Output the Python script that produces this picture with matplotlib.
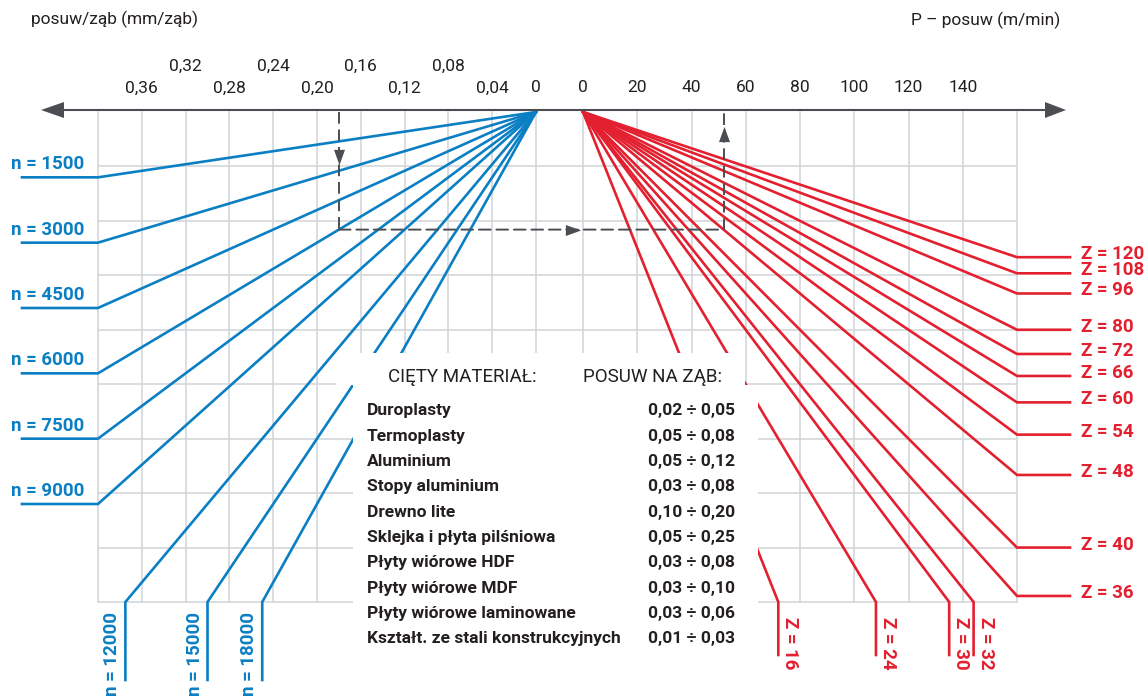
import matplotlib
matplotlib.use("Agg")
import matplotlib.pyplot as plt
from matplotlib.patches import Rectangle, Polygon, ConnectionPatch
import numpy as np

# ---------------- data ----------------
n_values = [1500, 3000, 4500, 6000, 7500, 9000, 12000, 15000, 18000]
z_values = [120, 108, 96, 80, 72, 66, 60, 54, 48, 40, 36, 32, 30, 24, 16]
fz_ticks_upper = [0.32, 0.24, 0.16, 0.08]
fz_ticks_lower = [0.36, 0.28, 0.20, 0.12, 0.04, 0.0]
p_ticks = [0, 20, 40, 60, 80, 100, 120, 140]
fz_title = "posuw/ząb (mm/ząb)"
p_title = "P – posuw (m/min)"
materials = ["Duroplasty", "Termoplasty", "Aluminium", "Stopy aluminium", "Drewno lite",
             "Sklejka i płyta pilśniowa", "Płyty wiórowe HDF", "Płyty wiórowe MDF",
             "Płyty wiórowe laminowane", "Kształt. ze stali konstrukcyjnych"]
feeds = ["0,02 ÷ 0,05", "0,05 ÷ 0,08", "0,05 ÷ 0,12", "0,03 ÷ 0,08", "0,10 ÷ 0,20",
         "0,05 ÷ 0,25", "0,03 ÷ 0,08", "0,03 ÷ 0,10", "0,03 ÷ 0,06", "0,01 ÷ 0,03"]
table_headers = ["CIĘTY MATERIAŁ:", "POSUW NA ZĄB:"]
example_fz, example_n, example_z = 0.18, 6000, 48

FZ_MAX, FZN_MAX, P_MAX = 0.40, 4500, 160

# ---------------- style ----------------
BLUE = "#0b7fc4"
RED = "#e3202f"
GRAY = "#4a4e52"
GRID = "#d4d8dc"
TXT = "#231f20"
FONT = ["Roboto", "DejaVu Sans"]
plt.rcParams["font.family"] = FONT

W, H = 1146, 697
fig = plt.figure(figsize=(W / 100, H / 100), dpi=100)
fig.patch.set_facecolor("white")

def fr(x0, y0, x1, y1):
    return [x0 / W, 1 - y1 / H, (x1 - x0) / W, (y1 - y0) / H]

ax_l = fig.add_axes(fr(98, 112, 536, 602))
ax_r = fig.add_axes(fr(583, 112, 1017, 602))
ax_l.set_xlim(FZ_MAX, 0)
ax_l.set_ylim(FZN_MAX, 0)
ax_r.set_xlim(0, P_MAX)
ax_r.set_ylim(FZN_MAX, 0)
for a in (ax_l, ax_r):
    a.set_facecolor("none")
    for s in a.spines.values():
        s.set_visible(False)
    a.set_xticks([])
    a.set_yticks([])

# px per data unit
px_fz = (536 - 98) / FZ_MAX
px_fzn = (602 - 112) / FZN_MAX
px_p = (1017 - 583) / P_MAX

# ---------------- grid ----------------
fz_grid = np.arange(0, 0.401, 0.04)
fzn_grid = np.arange(500, 4501, 500)
p_grid = np.arange(0, 161, 20)
gap_fz = -(583 - 536) / px_fz
for g in fz_grid:
    ax_l.plot([g, g], [0, FZN_MAX], color=GRID, lw=1.2, zorder=1, clip_on=False)
for g in p_grid:
    ax_r.plot([g, g], [0, FZN_MAX], color=GRID, lw=1.2, zorder=1, clip_on=False)
for g in fzn_grid:
    ax_l.plot([FZ_MAX, gap_fz], [g, g], color=GRID, lw=1.2, zorder=1, clip_on=False)
    ax_r.plot([0, P_MAX], [g, g], color=GRID, lw=1.2, zorder=1, clip_on=False)

LW = 1.9
LAB = 13.5
# ---------------- n lines (left) ----------------
for n in n_values:
    if n * FZ_MAX <= FZN_MAX:
        fz_end, fzn_end = FZ_MAX, n * FZ_MAX
        lead_fz = FZ_MAX + (98 - 22) / px_fz
        ax_l.plot([0, fz_end, lead_fz], [0, fzn_end, fzn_end], color=BLUE, lw=LW,
                  clip_on=False, zorder=3, solid_joinstyle="miter")
        ax_l.text(FZ_MAX + (98 - 11) / px_fz, fzn_end - 4 / px_fzn, f"n = {n}",
                  color=BLUE, fontsize=LAB, fontweight="bold", ha="left", va="bottom",
                  zorder=4, clip_on=False)
    else:
        fz_end, fzn_end = FZN_MAX / n, FZN_MAX
        lead_fzn = FZN_MAX + (680 - 602) / px_fzn
        ax_l.plot([0, fz_end, fz_end], [0, fzn_end, lead_fzn], color=BLUE, lw=LW,
                  clip_on=False, zorder=3, solid_joinstyle="miter")
        ax_l.text(fz_end + 13 / px_fz, FZN_MAX + (612 - 602) / px_fzn, f"n = {n}",
                  color=BLUE, fontsize=LAB, fontweight="bold", ha="center", va="top",
                  rotation=90, zorder=4, clip_on=False)

# ---------------- Z lines (right) ----------------
for z in z_values:
    p_at_max = FZN_MAX * z / 1000
    if p_at_max >= P_MAX:
        p_end, fzn_end = P_MAX, P_MAX * 1000 / z
        lead_p = P_MAX + (1070 - 1017) / px_p
        ax_r.plot([0, p_end, lead_p], [0, fzn_end, fzn_end], color=RED, lw=LW,
                  clip_on=False, zorder=3, solid_joinstyle="miter")
        ax_r.text(P_MAX + (1081 - 1017) / px_p, fzn_end - 3 / px_fzn, f"Z = {z}",
                  color=RED, fontsize=LAB, fontweight="bold", ha="left", va="center",
                  zorder=4, clip_on=False)
    else:
        p_end, fzn_end = p_at_max, FZN_MAX
        lead_fzn = FZN_MAX + (655 - 602) / px_fzn
        ax_r.plot([0, p_end, p_end], [0, fzn_end, lead_fzn], color=RED, lw=LW,
                  clip_on=False, zorder=3, solid_joinstyle="miter")
        ax_r.text(p_end + 12 / px_p, FZN_MAX + (617 - 602) / px_fzn, f"Z = {z}",
                  color=RED, fontsize=LAB, fontweight="bold", ha="center", va="top",
                  rotation=270, zorder=4, clip_on=False)

# ---------------- example (dashed) ----------------
ex_fzn = example_fz * example_n
ex_p = ex_fzn * example_z / 1000
DASH = (0, (6, 3))
ax_l.plot([example_fz, example_fz], [0, ex_fzn], color=GRAY, lw=1.4, ls=DASH, zorder=5)
ax_r.plot([ex_p, ex_p], [ex_fzn, 0], color=GRAY, lw=1.4, ls=DASH, zorder=5)
con = ConnectionPatch(xyA=(example_fz, ex_fzn), coordsA=ax_l.transData,
                      xyB=(ex_p, ex_fzn), coordsB=ax_r.transData,
                      color=GRAY, lw=1.4, ls=DASH, zorder=5)
fig.add_artist(con)
tri_down = [(-0.36, 0.5), (0.36, 0.5), (0, -0.5), (-0.36, 0.5)]
tri_up = [(-0.36, -0.5), (0.36, -0.5), (0, 0.5), (-0.36, -0.5)]
tri_right = [(-0.5, -0.36), (-0.5, 0.36), (0.5, 0), (-0.5, -0.36)]
ax_l.plot([example_fz], [(157 - 112) / px_fzn], marker=tri_down, ms=11, color=GRAY,
          mec="none", zorder=6)
ax_r.plot([ex_p], [(134 - 112) / px_fzn], marker=tri_up, ms=11, color=GRAY,
          mec="none", zorder=6)
ax_r.plot([-(583 - 573) / px_p], [ex_fzn], marker=tri_right, ms=11, color=GRAY,
          mec="none", zorder=6, clip_on=False)

# ---------------- overlay (axis arrow, table) ----------------
ov = fig.add_axes([0, 0, 1, 1], zorder=10)
ov.set_xlim(0, W)
ov.set_ylim(H, 0)
ov.axis("off")
ov.set_facecolor("none")

ov.plot([60, 1048], [110, 110], color=GRAY, lw=1.5)
ov.add_patch(Polygon([(41, 110), (64, 102), (64, 118)], closed=True, color=GRAY, lw=0))
ov.add_patch(Polygon([(1066, 110), (1045, 102), (1045, 118)], closed=True, color=GRAY, lw=0))

# tick labels
TICK = 12.5
for v in fz_ticks_upper:
    ov.text(536 - v * px_fz, 66, f"{v:.2f}".replace(".", ","), ha="center", va="center",
            fontsize=TICK, color=TXT)
for v in fz_ticks_lower:
    lab = "0" if v == 0 else f"{v:.2f}".replace(".", ",")
    ov.text(536 - v * px_fz, 88, lab, ha="center", va="center", fontsize=TICK, color=TXT)
for v in p_ticks:
    ov.text(583 + v * px_p, 88, str(v), ha="center", va="center", fontsize=TICK, color=TXT)
ov.text(31, 19, fz_title, ha="left", va="center", fontsize=TICK, color=TXT)
ov.text(1060, 20, p_title, ha="right", va="center", fontsize=TICK, color=TXT)

# table mask
ov.add_patch(Rectangle((336, 353), 745 - 336, 385 - 353, color="white", lw=0, zorder=2))
ov.add_patch(Rectangle((353, 385), 758 - 353, 665 - 385, color="white", lw=0, zorder=2))
ov.text(388, 377, table_headers[0], ha="left", va="center", fontsize=13.5, color=TXT, zorder=3)
ov.text(583, 377, table_headers[1], ha="left", va="center", fontsize=13.5, color=TXT, zorder=3)
TAB = 12.5
for i, (m, f) in enumerate(zip(materials, feeds)):
    y = 411 + 25.3 * i
    ov.text(367, y, m, ha="left", va="center", fontsize=TAB, color=TXT,
            fontweight="bold", zorder=3)
    ov.text(735, y, f, ha="right", va="center", fontsize=TAB, color=TXT,
            fontweight="bold", zorder=3)

fig.savefig("out.png", dpi=100, facecolor="white")
